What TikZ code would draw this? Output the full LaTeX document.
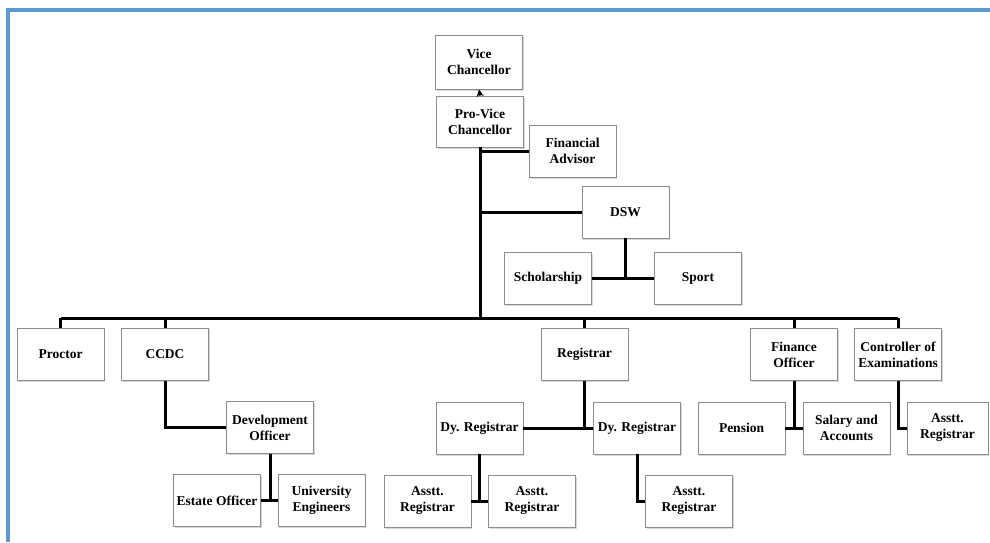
\documentclass[tikz,border=0pt]{standalone}
\usepackage{fontspec}
\setmainfont{Liberation Serif}
\usetikzlibrary{shadows}
\definecolor{frameblue}{RGB}{91,155,213}
\tikzstyle{post}=[rectangle,draw=black!45,fill=white,line width=0.8pt,align=center,inner sep=2pt,minimum width=87pt,minimum height=52pt,font=\fontsize{13.5}{16}\selectfont\bfseries,drop shadow={shadow xshift=1.2pt,shadow yshift=-1.5pt,fill=black!30}]
\tikzstyle{link}=[line width=3pt,black]
\begin{document}
\begin{tikzpicture}[x=1pt,y=-1pt]
			\useasboundingbox (0,0) rectangle (990,542);
			\fill [white] (0,0) rectangle (990,542);
			\draw [frameblue,line width=4pt] (8,542) -- (8,10) -- (990,10);
			
			\node (vc) at (479,62) [post,minimum height=54pt] {Vice\\Chancellor};
			\node (pvc) at (480,121.5) [post,minimum height=51pt] {Pro-Vice\\Chancellor};
			\node (fa) at (572.5,151) [post] {Financial\\Advisor};
			\node (dsw) at (625.5,212) [post] {DSW};
			\node (schol) at (548,278) [post] {Scholarship};
			\node (sport) at (698,278) [post] {Sport};
			
			\node (proctor) at (60.5,354.5) [post] {Proctor};
			\node (ccdc) at (165,354.5) [post] {CCDC};
			\node (reg) at (584.5,354.5) [post] {Registrar};
			\node (fo) at (794,354.5) [post] {Finance\\Officer};
			\node (coe) at (898,354.5) [post] {Controller of\\Examinations};
			
			\node (devo) at (270,427.5) [post] {Development\\Officer};
			\node (dy1) at (479.5,428) [post] {Dy. Registrar};
			\node (dy2) at (637,428) [post] {Dy. Registrar};
			\node (pension) at (741.5,428) [post] {Pension};
			\node (salary) at (846.5,428) [post] {Salary and\\Accounts};
			\node (ar4) at (947.5,428) [post,minimum width=81pt] {Asstt.\\Registrar};
			
			\node (estate) at (217,500.5) [post] {Estate Officer};
			\node (univ) at (321.5,500.5) [post] {University\\Engineers};
			\node (ar1) at (427.5,501) [post] {Asstt.\\Registrar};
			\node (ar2) at (532,501) [post] {Asstt.\\Registrar};
			\node (ar3) at (689,501) [post] {Asstt.\\Registrar};
			
			\coordinate (busl) at (60.5,318);
			\coordinate (busr) at (898,318);
			
			\draw [->,line width=2.2pt,>=stealth] (pvc.north) -- (vc.south);
			\draw [link] (pvc.south) -- (pvc.south |- busl);
			\draw [link] (busl) -- (busr);
			\draw [link] (fa.west -| pvc.south) -- (fa.west);
			\draw [link] (dsw.west -| pvc.south) -- (dsw.west);
			\draw [link] (dsw.south) -- (dsw.south |- schol.east);
			\draw [link] (schol.east) -- (sport.west);
			
			\draw [link] (proctor.north) -- (proctor.north |- busl);
			\draw [link] (ccdc.north) -- (ccdc.north |- busl);
			\draw [link] (reg.north) -- (reg.north |- busl);
			\draw [link] (fo.north) -- (fo.north |- busl);
			\draw [link] (coe.north) -- (coe.north |- busl);
			
			\draw [link] (ccdc.south) |- (devo.west);
			\draw [link] (devo.south) -- (devo.south |- estate.east);
			\draw [link] (estate.east) -- (univ.west);
			\draw [link] (reg.south) -- (reg.south |- dy1.east);
			\draw [link] (dy1.east) -- (dy2.west);
			\draw [link] (dy1.south) -- (dy1.south |- ar1.east);
			\draw [link] (ar1.east) -- (ar2.west);
			\draw [link] (dy2.south) |- (ar3.west);
			\draw [link] (fo.south) -- (fo.south |- pension.east);
			\draw [link] (pension.east) -- (salary.west);
			\draw [link] (coe.south) |- (ar4.west);
		\end{tikzpicture}
\end{document}
